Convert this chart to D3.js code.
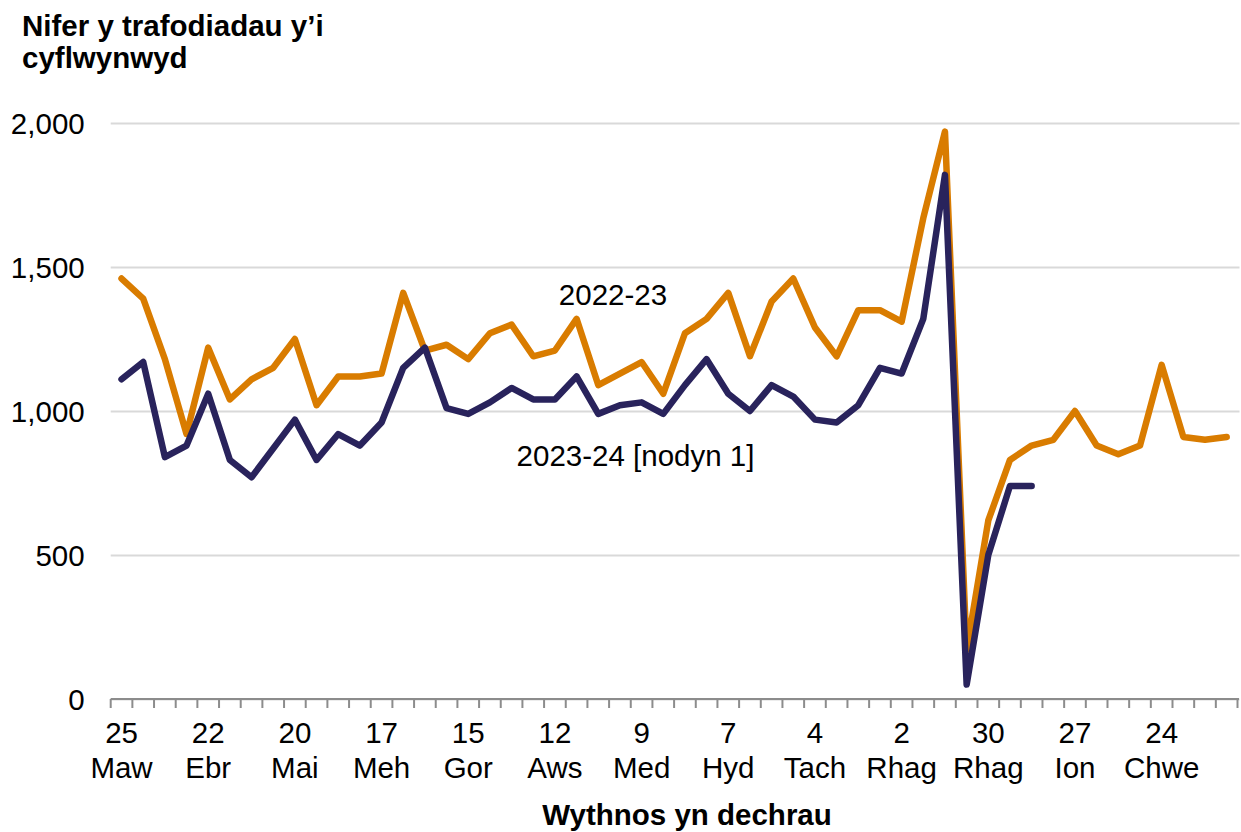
<!DOCTYPE html>
<html>
<head>
<meta charset="utf-8">
<script src="https://cdn.jsdelivr.net/npm/d3@7"></script>
<style>
    body { margin: 0; background: #fff; }
    text { font-family: "Liberation Sans", Arial, sans-serif; fill: #000; }
</style>
</head>
<body>
<svg id="chart" width="1241" height="832"></svg>
<script>
// weekly submissions, week 0 = w/c 25 March
const seriesNames = ["2022-23", "2023-24 [nodyn 1]"];
const values2022 = [1460, 1390, 1180, 920, 1220, 1040, 1110, 1150, 1250, 1020,
    1120, 1120, 1130, 1410, 1210, 1230, 1180, 1270, 1300, 1190,
    1210, 1320, 1090, 1130, 1170, 1060, 1270, 1320, 1410, 1190,
    1380, 1460, 1290, 1190, 1350, 1350, 1310, 1670, 1970, 170,
    620, 830, 880, 900, 1000, 880, 850, 880, 1160, 910,
    900, 910];
const values2023 = [1110, 1170, 840, 880, 1060, 830, 770, 870, 970, 830,
    920, 880, 960, 1150, 1220, 1010, 990, 1030, 1080, 1040,
    1040, 1120, 990, 1020, 1030, 990, 1090, 1180, 1060, 1000,
    1090, 1050, 970, 960, 1020, 1150, 1130, 1320, 1820, 50,
    500, 740, 740];
// labels shown every 4th week
const tickDays = ["25", "22", "20", "17", "15", "12", "9", "7", "4", "2", "30", "27", "24"];
const tickMonths = ["Maw", "Ebr", "Mai", "Meh", "Gor", "Aws", "Med", "Hyd", "Tach", "Rhag", "Rhag", "Ion", "Chwe"];
const yTicks = [0, 500, 1000, 1500, 2000];

const svg = d3.select("#chart");
const nWeeks = 52;
const fontSize = 29.5;
const plotLeft = 110.7, plotRight = 1237.5, plotTop = 123, plotBottom = 699;

const x = d3.scaleBand()
    .domain(d3.range(nWeeks))
    .range([plotLeft, plotRight])
    .paddingInner(0).paddingOuter(0);
const y = d3.scaleLinear().domain([0, 2000]).range([plotBottom, plotTop]);
const xc = i => x(i) + x.bandwidth() / 2;

// Gridlines + y labels
const yAxis = svg.append("g")
    .attr("transform", `translate(${plotLeft},0)`)
    .call(d3.axisLeft(y)
        .tickValues(yTicks)
        .tickFormat(d3.format(","))
        .tickSize(-(plotRight + 2 - plotLeft))
        .tickPadding(26));
yAxis.select(".domain").remove();
yAxis.selectAll(".tick line")
    .attr("stroke", "#d9d9d9")
    .attr("stroke-width", 2);
yAxis.selectAll(".tick text")
    .attr("font-size", fontSize)
    .attr("dy", "0.36em");

// x axis line and week ticks
svg.append("line")
    .attr("x1", plotLeft).attr("x2", plotRight + 1.5)
    .attr("y1", plotBottom).attr("y2", plotBottom)
    .attr("stroke", "#8c8c8c")
    .attr("stroke-width", 2);
svg.append("g").selectAll("line")
    .data(d3.range(nWeeks + 1))
    .join("line")
    .attr("x1", i => i < nWeeks ? x(i) : plotRight)
    .attr("x2", i => i < nWeeks ? x(i) : plotRight)
    .attr("y1", plotBottom).attr("y2", plotBottom + 9)
    .attr("stroke", "#8c8c8c")
    .attr("stroke-width", 2);

// x labels
const xLabels = svg.append("g").selectAll("text")
    .data(tickDays)
    .join("text")
    .attr("text-anchor", "middle")
    .attr("font-size", fontSize)
    .attr("transform", (d, k) => `translate(${xc(k * 4)},0)`);
xLabels.append("tspan").attr("x", 0).attr("y", 743).text(d => d);
xLabels.append("tspan").attr("x", 0).attr("y", 778).text((d, k) => tickMonths[k]);

// Lines
const line = d3.line()
    .x((d, i) => xc(i))
    .y(d => y(d));

svg.append("path")
    .datum(values2022)
    .attr("d", line)
    .attr("fill", "none")
    .attr("stroke", "#d97c00")
    .attr("stroke-width", 6.5)
    .attr("stroke-linejoin", "round")
    .attr("stroke-linecap", "round");

svg.append("path")
    .datum(values2023)
    .attr("d", line)
    .attr("fill", "none")
    .attr("stroke", "#29235c")
    .attr("stroke-width", 6.5)
    .attr("stroke-linejoin", "round")
    .attr("stroke-linecap", "round");

// Series labels
svg.append("text")
    .attr("x", 613).attr("y", 305)
    .attr("text-anchor", "middle")
    .attr("font-size", fontSize)
    .text(seriesNames[0]);
svg.append("text")
    .attr("x", 635.5).attr("y", 466)
    .attr("text-anchor", "middle")
    .attr("font-size", fontSize)
    .text(seriesNames[1]);

// Titles
const yTitle = svg.append("text")
    .attr("font-size", fontSize)
    .attr("font-weight", "bold");
yTitle.append("tspan").attr("x", 22).attr("y", 36).text("Nifer y trafodiadau y’i");
yTitle.append("tspan").attr("x", 22).attr("y", 68).text("cyflwynwyd");

svg.append("text")
    .attr("x", 687).attr("y", 825)
    .attr("text-anchor", "middle")
    .attr("font-size", fontSize)
    .attr("font-weight", "bold")
    .text("Wythnos yn dechrau");
</script>
</body>
</html>
